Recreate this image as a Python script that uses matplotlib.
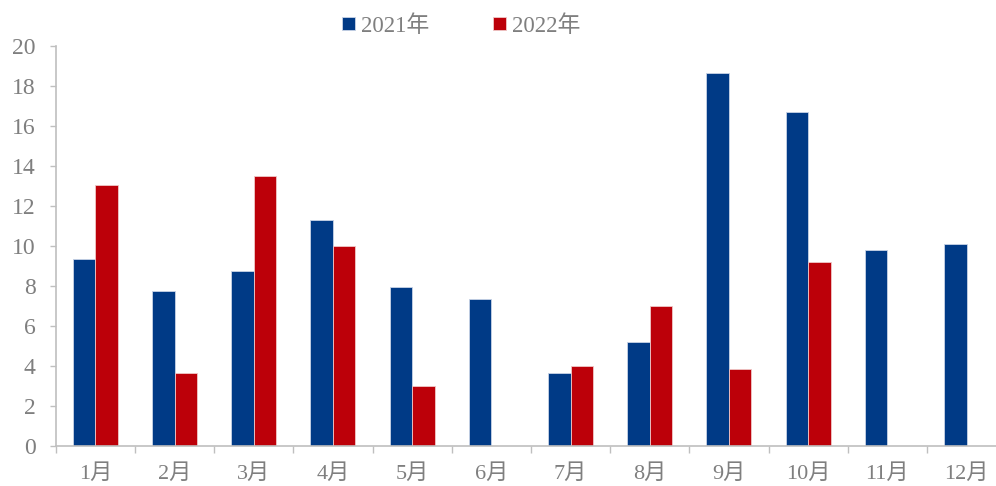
import numpy as np
import matplotlib.pyplot as plt

months = ['1月', '2月', '3月', '4月', '5月', '6月', '7月', '8月', '9月', '10月', '11月', '12月']
y2021 = [9.32, 7.72, 8.73, 11.3, 7.92, 7.32, 3.62, 5.17, 18.63, 16.68, 9.78, 10.07]
y2022 = [13.03, 3.63, 13.52, 9.97, 2.97, np.nan, 3.97, 6.98, 3.82, 9.17, np.nan, np.nan]

plt.rcParams['font.family'] = ['Liberation Serif', 'Noto Sans CJK SC']
grey = '#7f7f7f'
axis_grey = '#bfbfbf'

fig = plt.figure(figsize=(9.96, 4.86), dpi=100)
ax = fig.add_axes([55.7 / 996, 40.3 / 486, 950.4 / 996, 399.7 / 486])

x = np.arange(len(months))
w = 0.285
ax.bar(x - w / 2, y2021, w, color='#003a86', edgecolor='#c9d3e6', linewidth=0.6, label='2021年')
ax.bar(x + w / 2, y2022, w, color='#bc0009', edgecolor='#f0c8c8', linewidth=0.6, label='2022年')

ax.set_xlim(-0.5, len(months) - 0.5)
ax.set_ylim(0, 20)
ax.set_yticks(range(0, 21, 2))

# category boundaries carry the tick marks, labels sit at the centres
ax.set_xticks(np.arange(-0.5, len(months), 1))
ax.set_xticklabels([])
ax.set_xticks(x, minor=True)
ax.set_xticklabels(months, minor=True)
ax.tick_params(axis='x', which='major', length=5, width=1, color=axis_grey, direction='out')
ax.tick_params(axis='x', which='minor', length=0, pad=13, labelsize=16, labelcolor=grey)
ax.tick_params(axis='y', length=4.5, width=1, color=axis_grey, direction='out', pad=10,
               labelsize=17, labelcolor=grey)

for s in ['top', 'right']:
    ax.spines[s].set_visible(False)
for s in ['left', 'bottom']:
    ax.spines[s].set_color(axis_grey)
    ax.spines[s].set_linewidth(1.2)

leg = fig.legend(loc='center', bbox_to_anchor=(0.463, 0.947), ncol=2, frameon=False,
                 fontsize=16.5, handlelength=0.55, handleheight=0.55, handletextpad=0.25,
                 columnspacing=2.8)
for t in leg.get_texts():
    t.set_color(grey)

fig.savefig('out.png', dpi=100)
